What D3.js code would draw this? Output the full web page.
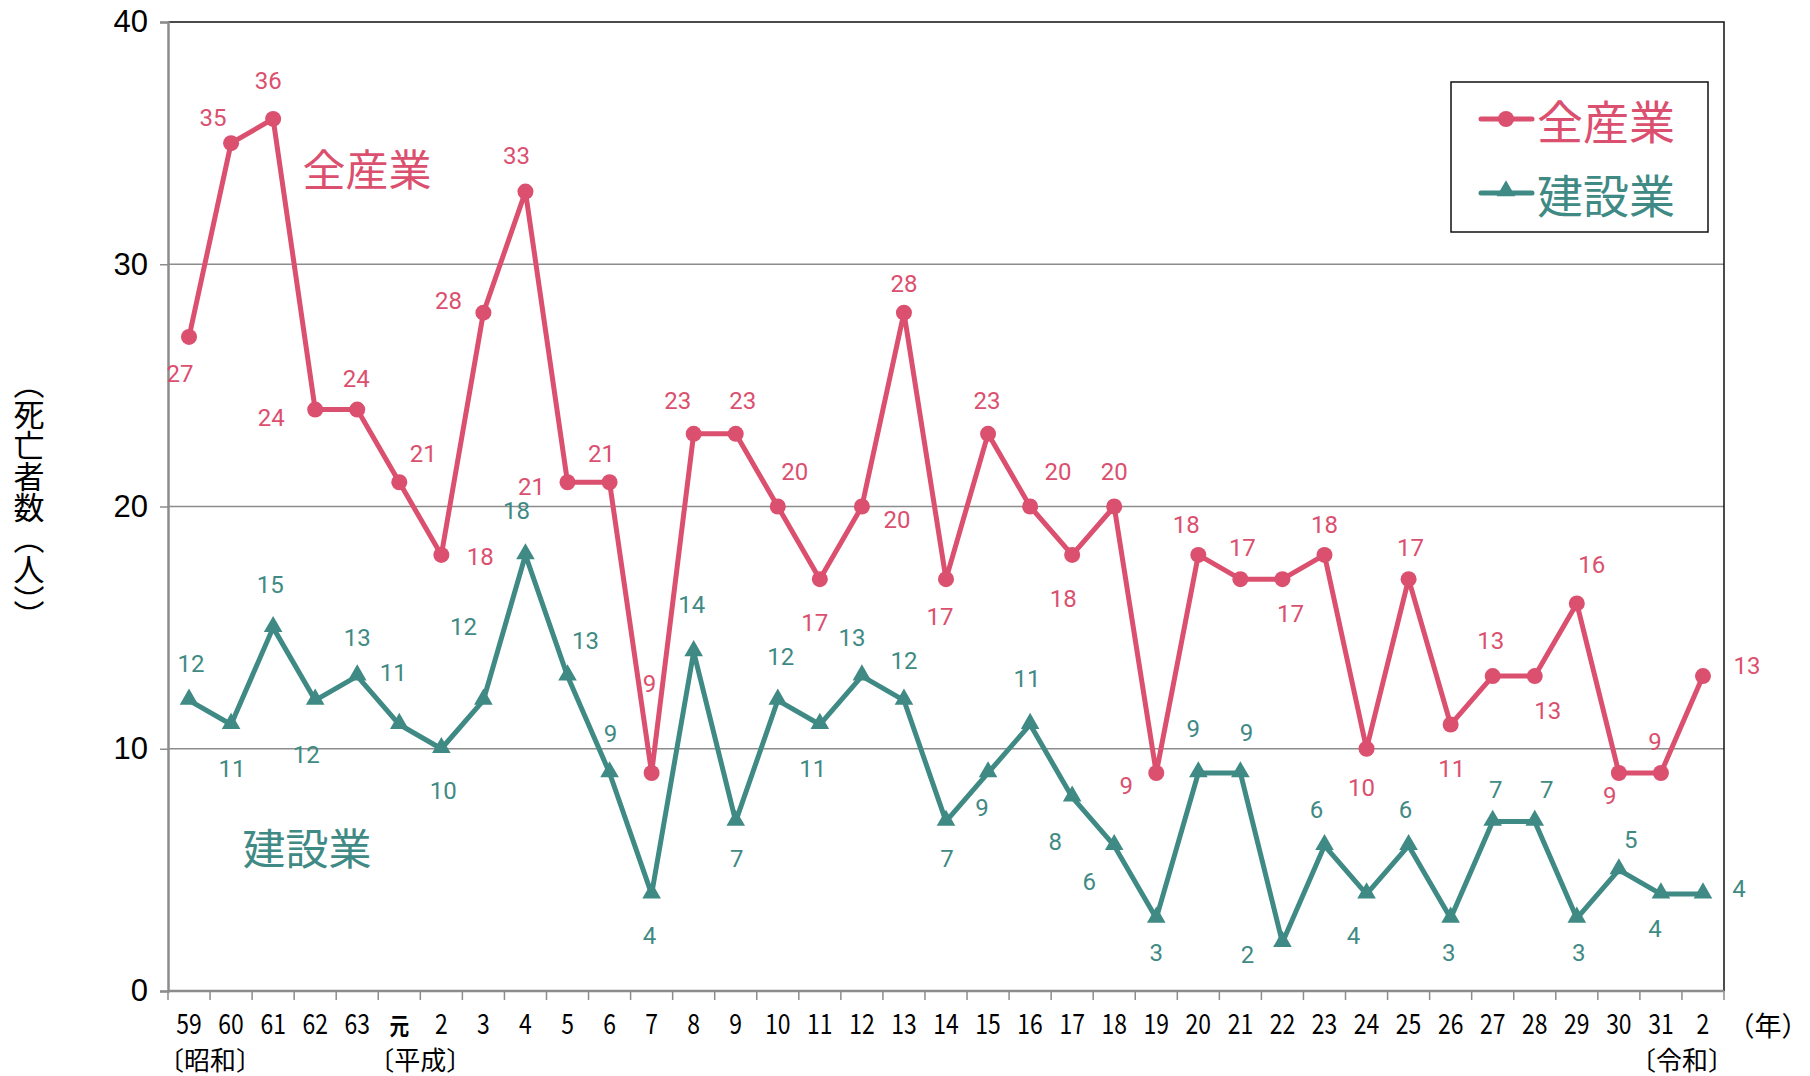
<!DOCTYPE html>
<html>
<head>
<meta charset="utf-8">
<script src="https://cdn.jsdelivr.net/npm/d3@7"></script>
<style>
  body { margin: 0; background: #fff; }
  svg text { font-family: "Noto Sans CJK JP", "Noto Sans", sans-serif; }
</style>
</head>
<body>
<div id="chart"></div>
<script>
// years (x categories)
const years = ['59', '60', '61', '62', '63', '元', '2', '3', '4', '5', '6', '7', '8', '9', '10', '11', '12', '13',
    '14', '15', '16', '17', '18', '19', '20', '21', '22', '23', '24', '25', '26', '27', '28', '29', '30', '31', '2 '];
const allIndustry = [27, 35, 36, 24, 24, 21, 18, 28, 33, 21, 21, 9, 23, 23, 20, 17, 20, 28, 17, 23, 20, 18, 20, 9,
    18, 17, 17, 18, 10, 17, 11, 13, 13, 16, 9, 9, 13];
const construction = [12, 11, 15, 12, 13, 11, 10, 12, 18, 13, 9, 4, 14, 7, 12, 11, 13, 12, 7, 9, 11, 8, 6, 3,
    9, 9, 2, 6, 4, 6, 3, 7, 7, 3, 5, 4, 4];
const yTicks = [0, 10, 20, 30, 40];
const eras = [['〔昭和〕', 0, 1], ['〔平成〕', 5, 6], ['〔令和〕', 35, 36]];

// label offsets (px from the point)
const allOffsets = [[-9, 37], [-18, -25], [-5, -38], [-44, 8], [-1, -31], [24, -28], [39, 2], [-35, -12], [-9, -36],
    [-36, 5], [-8, -28], [-2, -89], [-16, -33], [7, -33], [17, -35], [-5, 44], [35, 13], [0, -29], [-6, 38],
    [-1, -33], [28, -35], [-9, 44], [0, -35], [-30, 13], [-12, -30], [2, -31], [8, 35], [0, -30], [-5, 39],
    [2, -31], [1, 44], [-2, -35], [13, 35], [15, -38], [-9, 23], [-6, -31], [44, -10]];
const conOffsets = [[2, -36], [1, 44], [-3, -43], [-9, 55], [0, -38], [-6, -52], [2, 42], [-20, -73], [-9, -44],
    [18, -35], [1, -39], [-2, 42], [-2, -47], [1, 38], [3, -43], [-7, 44], [-10, -38], [0, -39], [1, 38],
    [-6, 35], [-3, -46], [-17, 45], [-25, 36], [0, 35], [-5, -44], [6, -40], [-35, 12], [-8, -36], [-13, 42],
    [-3, -36], [-2, 35], [3, -31], [12, -31], [2, 35], [12, -30], [-6, 35], [36, -5]];

const pink = '#db4f6f';
const teal = '#3f8a84';

const width = 1810, height = 1076;
const margin = { left: 168, right: 86, top: 22, bottom: 85 };

let svg = d3.select('#chart').append('svg')
    .attr('width', width)
    .attr('height', height);

let x = d3.scaleBand()
    .domain(years)
    .range([margin.left, width - margin.right]);

let y = d3.scaleLinear()
    .domain([0, 40])
    .range([height - margin.bottom, margin.top]);

let cx = function (i) { return x(years[i]) + x.bandwidth() / 2; };

// gridlines
svg.append('g')
    .selectAll('line')
    .data([10, 20, 30])
    .enter().append('line')
    .attr('x1', margin.left).attr('x2', width - margin.right)
    .attr('y1', d => y(d)).attr('y2', d => y(d))
    .attr('stroke', '#8c8c8c').attr('stroke-width', 1.5);

// frame top / right
svg.append('path')
    .attr('d', 'M' + margin.left + ',' + y(40) + 'H' + (width - margin.right) + 'V' + y(0))
    .attr('fill', 'none').attr('stroke', '#111').attr('stroke-width', 1.5);

// y axis
let yAxis = svg.append('g')
    .attr('transform', 'translate(' + margin.left + ',0)')
    .call(d3.axisLeft(y).tickValues(yTicks).tickSize(8).tickPadding(12));
yAxis.selectAll('text').attr('font-size', 31).attr('fill', '#000')
    .style('font-family', '"Liberation Sans", Arial, sans-serif');
yAxis.select('.domain').attr('stroke', '#8c8c8c').attr('stroke-width', 2.5);
yAxis.selectAll('.tick line').attr('stroke', '#8c8c8c').attr('stroke-width', 1.5);

// x axis: ticks at category boundaries
let xAxis = svg.append('g')
    .attr('transform', 'translate(0,' + y(0) + ')');
xAxis.append('line')
    .attr('x1', margin.left).attr('x2', width - margin.right)
    .attr('stroke', '#8c8c8c').attr('stroke-width', 2.5);
xAxis.selectAll('.tk')
    .data(years.concat(['end']))
    .enter().append('line')
    .attr('class', 'tk')
    .attr('x1', (d, i) => margin.left + i * x.step())
    .attr('x2', (d, i) => margin.left + i * x.step())
    .attr('y1', 0).attr('y2', 9)
    .attr('stroke', '#8c8c8c').attr('stroke-width', 1.5);
xAxis.selectAll('.lbl')
    .data(years)
    .enter().append('text')
    .attr('class', 'lbl')
    .attr('transform', (d, i) => 'translate(' + cx(i) + ',' + (d === '元' ? 44 : 43) + ') scale(0.82,1)')
    .attr('text-anchor', 'middle')
    .attr('font-size', d => d === '元' ? 24 : 28)
    .attr('font-weight', d => d === '元' ? 'bold' : 'normal')
    .attr('fill', '#000')
    .text(d => d.trim());

// era labels
svg.append('g').selectAll('text')
    .data(eras)
    .enter().append('text')
    .attr('x', d => (cx(d[1]) + cx(d[2])) / 2)
    .attr('y', y(0) + 79)
    .attr('text-anchor', 'middle')
    .attr('font-size', 26)
    .attr('fill', '#000')
    .text(d => d[0]);

svg.append('text')
    .attr('x', 1768).attr('y', y(0) + 45)
    .attr('text-anchor', 'middle')
    .attr('font-size', 27)
    .text('（年）');

// y axis title (vertical)
svg.append('text')
    .attr('x', 29).attr('y', 499)
    .attr('text-anchor', 'middle')
    .attr('font-size', 31)
    .style('writing-mode', 'vertical-rl')
    .text('（死亡者数（人））');

// lines
let line = d3.line()
    .x((d, i) => cx(i))
    .y(d => y(d));

function drawSeries(values, color, offsets, marker) {
    svg.append('path')
        .datum(values)
        .attr('d', line)
        .attr('fill', 'none')
        .attr('stroke', color)
        .attr('stroke-width', 5)
        .attr('stroke-linejoin', 'round');

    if (marker === 'circle') {
        svg.append('g').selectAll('circle')
            .data(values)
            .enter().append('circle')
            .attr('cx', (d, i) => cx(i))
            .attr('cy', d => y(d))
            .attr('r', 8)
            .attr('fill', color);
    } else {
        let tri = d3.symbol().type(d3.symbolTriangle).size(150);
        svg.append('g').selectAll('path')
            .data(values)
            .enter().append('path')
            .attr('d', tri)
            .attr('transform', (d, i) => 'translate(' + cx(i) + ',' + (y(d) - 1) + ')')
            .attr('fill', color);
    }

    svg.append('g').selectAll('text')
        .data(values)
        .enter().append('text')
        .attr('x', (d, i) => cx(i) + offsets[i][0])
        .attr('y', (d, i) => y(d) + offsets[i][1])
        .attr('text-anchor', 'middle')
        .attr('dominant-baseline', 'central')
        .attr('font-size', 24)
        .attr('fill', color)
        .style('font-family', 'Roboto, "Noto Sans", sans-serif')
        .text(d => d);
}

drawSeries(construction, teal, conOffsets, 'triangle');
drawSeries(allIndustry, pink, allOffsets, 'circle');

// in-chart series names
svg.append('text')
    .attr('x', 367).attr('y', 167)
    .attr('text-anchor', 'middle').attr('dominant-baseline', 'central')
    .attr('font-size', 43).attr('fill', pink)
    .text('全産業');
svg.append('text')
    .attr('x', 307).attr('y', 846)
    .attr('text-anchor', 'middle').attr('dominant-baseline', 'central')
    .attr('font-size', 43).attr('fill', teal)
    .text('建設業');

// legend
let legend = svg.append('g');
legend.append('rect')
    .attr('x', 1451).attr('y', 82)
    .attr('width', 257).attr('height', 150)
    .attr('fill', '#fff').attr('stroke', '#111').attr('stroke-width', 1.5);

let legendItems = [['全産業', pink, 'circle', 119], ['建設業', teal, 'triangle', 193]];
legendItems.forEach(function (item) {
    legend.append('line')
        .attr('x1', 1481).attr('x2', 1532)
        .attr('y1', item[3]).attr('y2', item[3])
        .attr('stroke', item[1]).attr('stroke-width', 5).attr('stroke-linecap', 'round');
    if (item[2] === 'circle') {
        legend.append('circle').attr('cx', 1506).attr('cy', item[3]).attr('r', 8).attr('fill', item[1]);
    } else {
        legend.append('path')
            .attr('d', d3.symbol().type(d3.symbolTriangle).size(150))
            .attr('transform', 'translate(1506,' + (item[3] - 2) + ')')
            .attr('fill', item[1]);
    }
    legend.append('text')
        .attr('x', 1537).attr('y', item[3])
        .attr('dominant-baseline', 'central')
        .attr('font-size', 46).attr('fill', item[1])
        .text(item[0]);
});
</script>
</body>
</html>
